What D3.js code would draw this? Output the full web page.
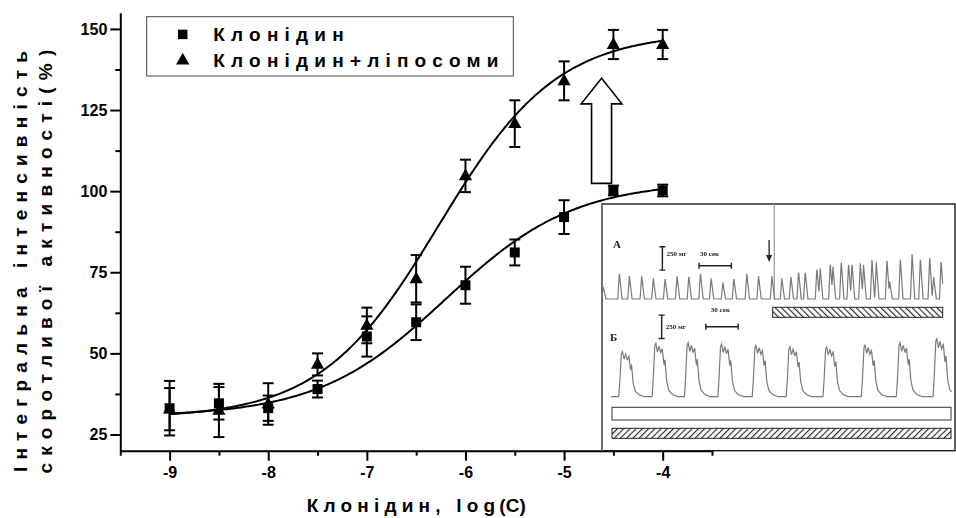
<!DOCTYPE html>
<html>
<head>
<meta charset="utf-8">
<script src="https://cdn.jsdelivr.net/npm/d3@7"></script>
<style>
  html, body { margin: 0; padding: 0; background: #fff; }
  svg { display: block; }
  text { font-family: "Liberation Sans", Arial, sans-serif; }
</style>
</head>
<body>
<svg id="chart" width="956" height="518"></svg>
<script>
// ---- Dose–response data: log(C) of clonidine vs integral intensity (%) ----
const logC = [-9, -8.5, -8, -7.5, -7, -6.5, -6, -5.5, -5, -4.5, -4];
const clonidine    = [33.1, 34.6, 33.1, 39.0, 55.2, 59.6, 71.0, 81.1, 92.0, 100.2, 100.2];
const clonidineErr = [8.4, 5.0, 3.9, 2.6, 6.2, 5.5, 5.7, 4.0, 5.2, 1.5, 1.8];
const liposomes    = [32.8, 32.4, 34.4, 46.6, 58.6, 73.0, 104.7, 120.8, 134.0, 145.2, 145.2];
const liposomesErr = [6.5, 8.2, 6.4, 3.4, 5.5, 7.3, 5.0, 7.2, 6.0, 4.5, 4.5];

// Boltzmann fit parameters: [A1 (bottom), A2 (top), x0, dx]
const clonidineFit = [30.5, 103, -6.2, 0.65];
const liposomesFit = [30, 149, -6.27, 0.6];

const legendLabels = ["Клонідин", "Клонідин+ліпосоми"];
const xTicks = [-9, -8, -7, -6, -5, -4];
const xMinorTicks = [-9.5, -8.5, -7.5, -6.5, -5.5, -4.5, -3.5];
const yTicks = [25, 50, 75, 100, 125, 150];
const yMinorTicks = [37.5, 62.5, 87.5, 112.5, 137.5];
const yTitle = ["Інтегральна інтенсивність", "скоротливої активності(%)"];
const xTitle = ["Клонідин, log", "(C)"];

// ---- Inset: isometric contraction recordings ----
// A: spontaneous contractions, clonidine applied at the arrow (sec, mg)
const traceAPeakSec = [1.2, 16.1, 25.4, 36.8, 47.6, 58.5, 69.6, 80.5, 91.3, 101.2, 112.1, 122.3, 134.3, 145.2, 157.6,
  166.8, 175.2, 182.3, 188.5, 199.3, 202.4, 211.7, 214.2, 221.9, 228.7, 231.9, 239.6, 242.6, 250.4, 254.4,
  264.3, 266.8, 276.7, 287.6, 295.3, 303.9, 307.6, 314.5];
const traceAPeakMg = [130, 280, 247, 247, 222, 222, 247, 247, 280, 222, 175, 222, 280, 247, 247,
  221, 239, 293, 293, 329, 329, 382, 347, 407, 382, 382, 382, 365, 418, 393,
  425, 186, 436, 482, 436, 454, 239, 411];
const traceAApplySec = 155;
const traceAHatchSec = [158.3, 316];
// Б: bursts of contractions with clonidine + liposomes
const traceBBurstSec = [7.1, 38.1, 68.1, 99.1, 131.0, 162.5, 196.6, 232.2, 264.7, 298.8];
const traceBBurstMg = [482, 572, 579, 565, 554, 536, 536, 554, 579, 625];
const burstShapeSec   = [0, 1, 2.5, 3.5, 5, 6.5, 8, 9.5, 11, 12, 13.5, 15.5, 19, 24];
const burstShapeLevel = [0, 0.3, 0.95, 1, 0.84, 0.95, 0.82, 0.9, 0.6, 0.7, 0.3, 0.12, 0.04, 0];
const scaleBarMg = 250, scaleBarSec = 30;

const svg = d3.select("#chart");

const x = d3.scaleLinear().domain([-9.5, -3.5]).range([120.3, 712]);
const y = d3.scaleLinear().domain([20, 155]).range([450.7, 12.7]);

// ---- axes ----
const axisFont = "bold 16px 'Liberation Sans', Arial, sans-serif";
function styleAxis(g) {
  g.selectAll("path.domain").attr("stroke", "#000").attr("stroke-width", 2);
  g.selectAll(".tick line").attr("stroke", "#000").attr("stroke-width", 2);
  g.selectAll(".tick text").attr("fill", "#000").style("font", axisFont);
}
svg.append("g").attr("transform", `translate(0,${y.range()[0]})`)
  .call(d3.axisBottom(x).tickValues(xMinorTicks).tickSize(5).tickSizeOuter(0).tickFormat(""))
  .call(g => g.select(".domain").remove()).call(styleAxis);
svg.append("g").attr("transform", `translate(0,${y.range()[0]})`)
  .call(d3.axisBottom(x).tickValues(xTicks).tickSize(10).tickSizeOuter(0).tickPadding(6).tickFormat(d => String(d)))
  .call(styleAxis);
svg.append("g").attr("transform", `translate(${x.range()[0]},0)`)
  .call(d3.axisLeft(y).tickValues(yMinorTicks).tickSize(5).tickSizeOuter(0).tickFormat(""))
  .call(g => g.select(".domain").remove()).call(styleAxis);
svg.append("g").attr("transform", `translate(${x.range()[0]},0)`)
  .call(d3.axisLeft(y).tickValues(yTicks).tickSize(10).tickSizeOuter(0).tickPadding(3).tickFormat(d => String(d)))
  .call(styleAxis);

// axis titles
const titleFont = "bold 19px 'Liberation Sans', Arial, sans-serif";
const yMid = 258;
[27, 52].forEach((bx, i) => {
  svg.append("text")
    .attr("transform", `translate(${bx},${yMid}) rotate(-90)`)
    .attr("text-anchor", "middle")
    .style("font", titleFont).style("letter-spacing", "7.2px")
    .text(yTitle[i]);
});
const xt = svg.append("text").attr("x", 306.7).attr("y", 512).style("font", titleFont);
xt.append("tspan").style("letter-spacing", "5.2px").text(xTitle[0]);
xt.append("tspan").style("letter-spacing", "0px").attr("dx", -1).text(xTitle[1]);

// ---- fitted curves ----
const boltz = p => v => p[1] + (p[0] - p[1]) / (1 + Math.exp((v - p[2]) / p[3]));
const xs = d3.range(-9, -4 + 1e-9, 0.02);
const line = d3.line().x(d => x(d[0])).y(d => y(d[1]));
[clonidineFit, liposomesFit].forEach(p => {
  const f = boltz(p);
  svg.append("path").datum(xs.map(v => [v, f(v)]))
    .attr("d", line).attr("fill", "none").attr("stroke", "#000").attr("stroke-width", 2);
});

// ---- error bars & markers ----
const capW = 5.5;
function errorBars(vals, errs) {
  const g = svg.append("g").attr("stroke", "#000").attr("stroke-width", 2);
  logC.forEach((c, i) => {
    const cx = x(c), y0 = y(vals[i] - errs[i]), y1 = y(vals[i] + errs[i]);
    g.append("line").attr("x1", cx).attr("x2", cx).attr("y1", y0).attr("y2", y1);
    g.append("line").attr("x1", cx - capW).attr("x2", cx + capW).attr("y1", y0).attr("y2", y0);
    g.append("line").attr("x1", cx - capW).attr("x2", cx + capW).attr("y1", y1).attr("y2", y1);
  });
}
errorBars(clonidine, clonidineErr);
errorBars(liposomes, liposomesErr);

const squarePath = d3.symbol(d3.symbolSquare, 100)();
const trianglePath = "M0,-7.3L6.6,4.4L-6.6,4.4Z";
svg.append("g").selectAll("path").data(logC).join("path")
  .attr("d", squarePath).attr("fill", "#000")
  .attr("transform", (c, i) => `translate(${x(c)},${y(clonidine[i])})`);
svg.append("g").selectAll("path").data(logC).join("path")
  .attr("d", trianglePath).attr("fill", "#000")
  .attr("transform", (c, i) => `translate(${x(c)},${y(liposomes[i])})`);

// ---- legend ----
const lg = svg.append("g");
lg.append("rect").attr("x", 146.7).attr("y", 16.7).attr("width", 366.6).attr("height", 59.3)
  .attr("fill", "#fff").attr("stroke", "#444").attr("stroke-width", 1);
[squarePath, trianglePath].forEach((sym, i) => {
  const cy = 34.4 + i * 25.7;
  lg.append("path").attr("d", sym).attr("fill", "#000")
    .attr("transform", `translate(182.7,${cy}) scale(${i ? 1 : 0.95})`);
  lg.append("text").attr("x", 213.3).attr("y", cy + 7)
    .style("font", "bold 19px 'Liberation Sans', Arial, sans-serif")
    .style("letter-spacing", "6.2px").text(legendLabels[i]);
});

// ---- hollow arrow showing the increase ----
const arrowX = x(-4.62), tipY = y(134.8), headY = y(126.9), baseY = y(102.4);
svg.append("path")
  .attr("d", `M${arrowX},${tipY}L${arrowX + 20.4},${headY}L${arrowX + 10},${headY}L${arrowX + 10},${baseY}` +
             `L${arrowX - 10},${baseY}L${arrowX - 10},${headY}L${arrowX - 20.4},${headY}Z`)
  .attr("fill", "#fff").attr("stroke", "#000").attr("stroke-width", 1.6);

// ---- inset recordings ----
const inset = { left: 602, top: 204, right: 955, bottom: y.range()[0] };
const ig = svg.append("g");
ig.append("rect").attr("x", inset.left).attr("y", inset.top)
  .attr("width", inset.right - inset.left).attr("height", inset.bottom - inset.top)
  .attr("fill", "#fff").attr("stroke", "#1a1a1a").attr("stroke-width", 1.4);
ig.append("line").attr("x1", inset.left).attr("x2", inset.left).attr("y1", inset.top).attr("y2", inset.bottom)
  .attr("stroke", "#777").attr("stroke-width", 1.4);

const defs = svg.append("defs");
defs.append("filter").attr("id", "soft").append("feGaussianBlur").attr("stdDeviation", 0.45);
function hatch(id, dir) {
  const p = defs.append("pattern").attr("id", id).attr("patternUnits", "userSpaceOnUse")
    .attr("width", 4.4).attr("height", 4.4)
    .attr("patternTransform", `rotate(${dir * 45})`);
  p.append("rect").attr("width", 4.4).attr("height", 4.4).attr("fill", "#fff");
  p.append("line").attr("x1", 0).attr("x2", 0).attr("y1", 0).attr("y2", 4.4)
    .attr("stroke", "#222").attr("stroke-width", 2.2);
}
hatch("hatchBack", -1);
hatch("hatchFwd", 1);

const content = ig.append("g").attr("filter", "url(#soft)");

const tA = d3.scaleLinear().domain([0, 316]).range([602, 942.7]);
const mgA = d3.scaleLinear().domain([0, 500]).range([299, 299 - 46.6]);
const tB = d3.scaleLinear().domain([0, 316]).range([611, 951.6]);
const mgB = d3.scaleLinear().domain([0, 500]).range([396.7, 396.7 - 46.6]);

// join of the two recordings in A
content.append("line").attr("x1", 774.3).attr("x2", 774.3).attr("y1", inset.top).attr("y2", mgA(0) + 1)
  .attr("stroke", "#999").attr("stroke-width", 1.2);

// trace A: sharp spikes over a flat baseline
const peakKernel = dt => dt < -1.5 || dt > 2.5 ? 0 : (dt < 0 ? 1 + dt / 1.5 : 1 - dt / 2.5);
const sampA = d3.range(0, 316.01, 0.2).map(t => {
  let v = 0;
  traceAPeakSec.forEach((tp, i) => { v = Math.max(v, traceAPeakMg[i] * peakKernel(t - tp)); });
  return [t, v];
});
// trace Б: bursts built from one burst profile
const burstShape = t => {
  if (t <= 0 || t >= burstShapeSec[burstShapeSec.length - 1]) return 0;
  const k = d3.bisectRight(burstShapeSec, t) - 1;
  const f = (t - burstShapeSec[k]) / (burstShapeSec[k + 1] - burstShapeSec[k]);
  return burstShapeLevel[k] + f * (burstShapeLevel[k + 1] - burstShapeLevel[k]);
};
const sampB = d3.range(0, 316.01, 0.2).map(t => {
  let v = 0;
  traceBBurstSec.forEach((t0, i) => { v = Math.max(v, traceBBurstMg[i] * burstShape(t - t0)); });
  return [t, v];
});
content.append("path").datum(sampA)
  .attr("d", d3.line().x(d => tA(d[0])).y(d => mgA(d[1])))
  .attr("fill", "none").attr("stroke", "#7a7a7a").attr("stroke-width", 1.2);
content.append("path").datum(sampB)
  .attr("d", d3.line().x(d => tB(d[0])).y(d => mgB(d[1])))
  .attr("fill", "none").attr("stroke", "#7a7a7a").attr("stroke-width", 1.2);

// application bars
content.append("rect").attr("x", tA(traceAHatchSec[0])).attr("y", 307.3)
  .attr("width", tA(traceAHatchSec[1]) - tA(traceAHatchSec[0])).attr("height", 10)
  .attr("fill", "url(#hatchBack)").attr("stroke", "#222").attr("stroke-width", 1);
content.append("rect").attr("x", 612).attr("y", 407.3).attr("width", 339).attr("height", 12.7)
  .attr("fill", "#fff").attr("stroke", "#333").attr("stroke-width", 1);
content.append("rect").attr("x", 612).attr("y", 428.3).attr("width", 339).attr("height", 10)
  .attr("fill", "url(#hatchFwd)").attr("stroke", "#222").attr("stroke-width", 1);

// drug application arrow
const ax = tA(traceAApplySec);
content.append("line").attr("x1", ax).attr("x2", ax).attr("y1", 240).attr("y2", 257)
  .attr("stroke", "#222").attr("stroke-width", 1.3);
content.append("path").attr("d", `M${ax - 3},${255}L${ax + 3},${255}L${ax},${262}Z`).attr("fill", "#222");

// scale bars
const serif = "'Liberation Serif', 'Times New Roman', serif";
function vBar(xp, y0, y1) {
  content.append("path").attr("d", `M${xp - 3},${y0}H${xp + 3}M${xp},${y0}V${y1}M${xp - 3},${y1}H${xp + 3}`)
    .attr("stroke", "#222").attr("stroke-width", 1.4).attr("fill", "none");
}
function hBar(x0, x1, yp) {
  content.append("path").attr("d", `M${x0},${yp - 3}V${yp + 3}M${x0},${yp}H${x1}M${x1},${yp - 3}V${yp + 3}`)
    .attr("stroke", "#222").attr("stroke-width", 1.4).attr("fill", "none");
}
function smallText(xp, yp, s, size) {
  content.append("text").attr("x", xp).attr("y", yp).text(s)
    .style("font", `bold ${size}px ${serif}`).attr("fill", "#222");
}
// A
vBar(tA(56), mgA(310), mgA(310 + scaleBarMg));
smallText(tA(56) + 4, 255.5, `${scaleBarMg} мг`, 7);
hBar(tA(90), tA(90 + scaleBarSec), mgA(357));
smallText(tA(90) + 1, 256, `${scaleBarSec} сек`, 7);
smallText(613, 248, "А", 11);
// Б
vBar(tB(47), mgB(625), mgB(625 + scaleBarMg));
smallText(tB(47) + 4, 328.5, `${scaleBarMg} мг`, 7);
hBar(tB(88), tB(88 + scaleBarSec), mgB(750));
smallText(tB(88) + 5, 312, `${scaleBarSec} сек`, 7);
smallText(610, 341, "Б", 11);
</script>
</body>
</html>
